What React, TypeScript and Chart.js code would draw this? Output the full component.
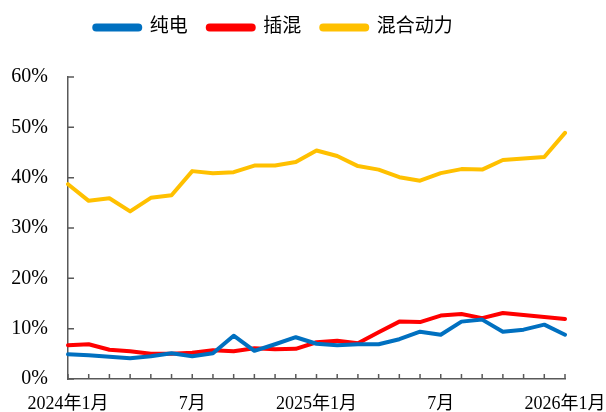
import React, { useEffect, useRef } from "react";
import { Chart, registerables } from "chart.js";

Chart.register(...registerables);

const categories = [
  "2024年1月", "2024年2月", "2024年3月", "2024年4月", "2024年5月", "2024年6月",
  "2024年7月", "2024年8月", "2024年9月", "2024年10月", "2024年11月", "2024年12月",
  "2025年1月", "2025年2月", "2025年3月", "2025年4月", "2025年5月", "2025年6月",
  "2025年7月", "2025年8月", "2025年9月", "2025年10月", "2025年11月", "2025年12月",
  "2026年1月",
];

const xTickLabels = [
  "2024年1月", "", "", "", "", "",
  "7月", "", "", "", "", "",
  "2025年1月", "", "", "", "", "",
  "7月", "", "", "", "", "",
  "2026年1月",
];

const pureEV = [4.9, 4.7, 4.4, 4.1, 4.5, 5.1, 4.5, 5.1, 8.6, 5.6, 6.9, 8.3, 7.0, 6.7, 6.9, 6.9, 7.9, 9.4, 8.8, 11.4, 11.8, 9.4, 9.8, 10.8, 8.8];
const plugInHybrid = [6.7, 6.9, 5.8, 5.5, 5.0, 5.0, 5.2, 5.7, 5.5, 6.1, 5.9, 6.0, 7.3, 7.6, 7.1, 9.3, 11.4, 11.3, 12.6, 12.9, 12.1, 13.1, 12.7, 12.3, 11.9];
const hybrid = [38.7, 35.4, 35.9, 33.3, 36.0, 36.5, 41.3, 40.9, 41.1, 42.4, 42.4, 43.1, 45.4, 44.3, 42.3, 41.6, 40.1, 39.4, 40.9, 41.7, 41.6, 43.5, 43.8, 44.1, 48.9];

const seriesNames = ["纯电", "插混", "混合动力"];
const seriesColors = ["#0070C0", "#FF0000", "#FFC000"];

const FONT = "'Liberation Serif', 'Times New Roman', 'Noto Sans CJK SC', serif";
const AXIS_COLOR = "#595959";

const innerTicks = {
  id: "innerTicks",
  afterDatasetsDraw(chart: any) {
    const { ctx } = chart;
    const xs = chart.scales.x;
    const ys = chart.scales.y;
    ctx.save();
    ctx.strokeStyle = AXIS_COLOR;
    ctx.lineWidth = 1.5;
    ctx.beginPath();
    xs.ticks.forEach((_t: any, i: number) => {
      const px = xs.getPixelForTick(i);
      ctx.moveTo(px, ys.bottom);
      ctx.lineTo(px, ys.bottom - 5);
    });
    ys.ticks.forEach((_t: any, i: number) => {
      const py = ys.getPixelForTick(i);
      ctx.moveTo(xs.left, py);
      ctx.lineTo(xs.left + 6, py);
    });
    ctx.stroke();
    ctx.restore();
  },
};

// Adds empty space below the legend so the plot starts lower.
const legendSpacer = {
  id: "legendSpacer",
  beforeInit(chart: any) {
    const legend = chart.legend;
    if (!legend) return;
    const origFit = legend.fit;
    legend.fit = function () {
      origFit.call(this);
      this.height += 30;
    };
  },
};

export default function App() {
  const ref = useRef<HTMLCanvasElement | null>(null);

  useEffect(() => {
    if (!ref.current) return;
    const values = [pureEV, plugInHybrid, hybrid];
    const chart = new Chart(ref.current, {
      type: "line",
      data: {
        labels: categories,
        datasets: values.map((d, i) => ({
          label: seriesNames[i],
          data: d,
          borderColor: seriesColors[i],
          backgroundColor: seriesColors[i],
          borderWidth: 4,
          pointRadius: 0,
          tension: 0,
          borderCapStyle: "round",
          borderJoinStyle: "round",
        })),
      },
      options: {
        responsive: true,
        maintainAspectRatio: false,
        animation: false,
        layout: { padding: { top: -2, right: 41, left: -18, bottom: 0 } },
        plugins: {
          tooltip: { enabled: false },
          legend: {
            position: "top",
            labels: {
              color: "#000",
              font: { family: FONT, size: 19 },
              boxWidth: 46,
              boxHeight: 4,
              padding: 20,
              useBorderRadius: true,
              borderRadius: 2,
            },
          },
        },
        scales: {
          x: {
            offset: false,
            grid: { display: false, drawTicks: false },
            border: { display: true, color: AXIS_COLOR, width: 1.5 },
            ticks: {
              autoSkip: false,
              maxRotation: 0,
              minRotation: 0,
              padding: 14,
              color: "#000",
              font: { family: FONT, size: 18 },
              callback: (_v: any, i: number) => xTickLabels[i],
            },
            afterFit: (s: any) => {
              s.height = 33;
              s.paddingLeft = 0;
              s.paddingRight = 0;
            },
          },
          y: {
            min: 0,
            max: 60,
            grid: { display: false, drawTicks: false },
            border: { display: true, color: AXIS_COLOR, width: 1.5 },
            ticks: {
              stepSize: 10,
              padding: 20,
              color: "#000",
              font: { family: FONT, size: 20 },
              callback: (v: any) => `${v}%`,
            },
            afterFit: (s: any) => {
              s.width = 86;
              s.paddingBottom = 0;
            },
          },
        },
      },
      plugins: [legendSpacer, innerTicks],
    });
    return () => chart.destroy();
  }, []);

  return (
    <div style={{ position: "absolute", left: 0, top: 0, width: 606, height: 412, background: "#fff" }}>
      <canvas ref={ref} />
    </div>
  );
}
